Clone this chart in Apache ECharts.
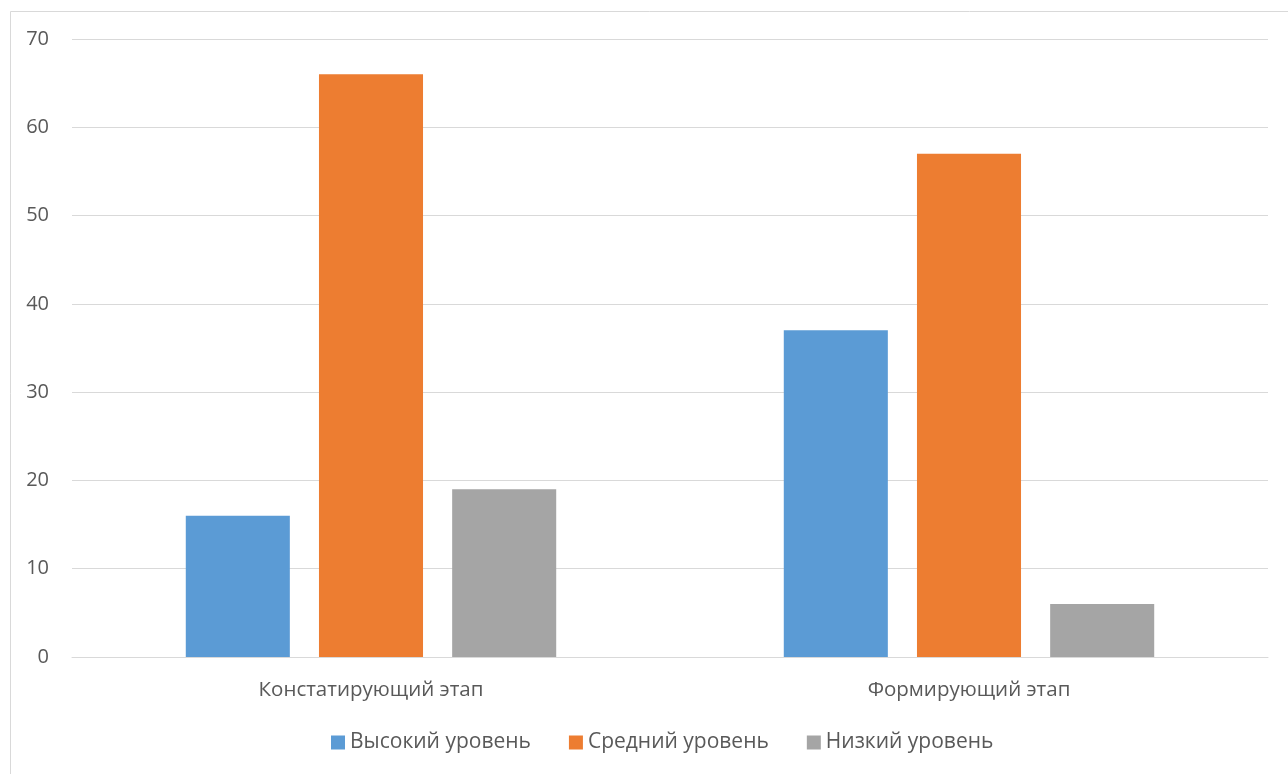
<!DOCTYPE html>
<html>
<head>
<meta charset="utf-8">
<script src="https://cdn.jsdelivr.net/npm/echarts@6/dist/echarts.min.js"></script>
<style>
  html, body { margin: 0; padding: 0; background: #fff; }
  #chart { width: 1288px; height: 774px; }
</style>
</head>
<body>
<div id="chart"></div>
<script>
// Stages and levels
const categories = ['Констатирующий этап', 'Формирующий этап'];
const seriesNames = ['Высокий уровень', 'Средний уровень', 'Низкий уровень'];
const highValues = [16, 37];
const midValues = [66, 57];
const lowValues = [19, 6];
const colors = ['#5B9BD5', '#ED7D31', '#A5A5A5'];

const fontFamily = '"Open Sans", "Noto Sans", sans-serif';
const textColor = '#595959';

const chart = echarts.init(document.getElementById('chart'), null, { renderer: 'canvas' });

const valueSets = [highValues, midValues, lowValues];
const series = seriesNames.map((name, i) => ({
  name: name,
  type: 'bar',
  data: valueSets[i],
  barWidth: '17.4%',
  barGap: '28%',
  itemStyle: { color: colors[i] }
}));

chart.setOption({
  animation: false,
  backgroundColor: '#fff',
  graphic: [{
    type: 'rect',
    left: 8, top: 9,
    shape: { width: 1300, height: 800 },
    style: { fill: 'none', stroke: '#d9d9d9', lineWidth: 1 },
    silent: true
  }],
  grid: { left: 72, right: 20, top: 39, bottom: 117, containLabel: false },
  legend: {
    left: 331,
    bottom: 21,
    padding: 0,
    itemWidth: 14,
    itemHeight: 14,
    itemGap: 38,
    icon: 'rect',
    textStyle: { color: textColor, fontSize: 21, fontFamily: fontFamily },
    data: seriesNames
  },
  xAxis: {
    type: 'category',
    data: categories,
    axisLine: { lineStyle: { color: '#d9d9d9', width: 1 } },
    axisTick: { show: false },
    axisLabel: { color: textColor, fontSize: 20.5, fontFamily: fontFamily, margin: 23 }
  },
  yAxis: {
    type: 'value',
    min: 0, max: 70, interval: 10,
    axisLine: { show: false },
    axisTick: { show: false },
    splitLine: { lineStyle: { color: '#d9d9d9', width: 1 } },
    axisLabel: { color: textColor, fontSize: 20, fontFamily: fontFamily, margin: 23 }
  },
  series: series
});
</script>
</body>
</html>
